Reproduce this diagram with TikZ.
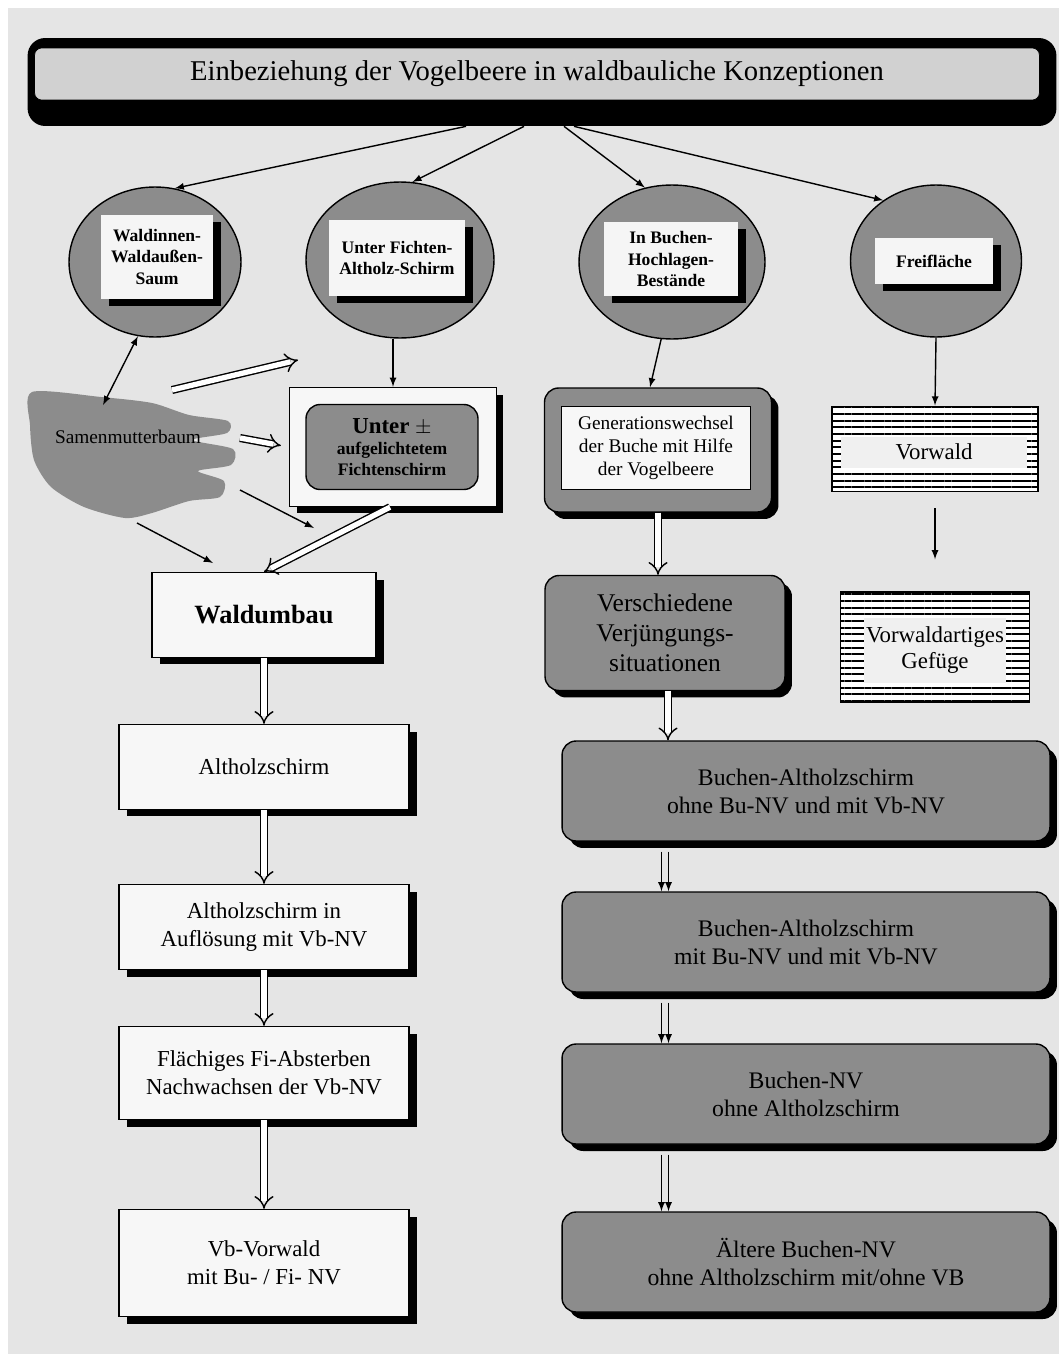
\documentclass[tikz,border=0pt]{standalone}
\usepackage{fontspec}
\setmainfont{Liberation Serif}
\usetikzlibrary{positioning, shapes.geometric, shadows, arrows.meta, patterns.meta}

\begin{document}
\begin{tikzpicture}[%
  x = .02cm, y = -.02cm,
  every node/.style = {align=center},
  rahmen/.style   = {rectangle, rounded corners=10pt, fill=black,
                     minimum width=20.58cm, minimum height=1.76cm},
  kopf/.style     = {rectangle, rounded corners=4pt, draw, thin,
                     fill=black!18, minimum width=20.1cm, minimum height=1.04cm,
                     font=\fontsize{16.3}{19}\selectfont},
  ring/.style     = {ellipse, draw, thick, fill=black!45, inner sep=0pt},
  tag/.style      = {rectangle, fill=black!4, inner sep=1pt,
                     font=\bfseries\fontsize{10}{12}\selectfont,
                     drop shadow={shadow xshift=.16cm, shadow yshift=-.14cm,
                                  fill=black, opacity=1}},
  kasten/.style   = {rectangle, draw, thick, fill=black!3,
                     minimum width=5.8cm, minimum height=1.7cm,
                     font=\fontsize{13}{16}\selectfont,
                     drop shadow={shadow xshift=.16cm, shadow yshift=-.14cm,
                                  fill=black, opacity=1}},
  grau/.style     = {rectangle, rounded corners=8pt, draw, thick, fill=black!45,
                     drop shadow={shadow xshift=.14cm, shadow yshift=-.14cm,
                                  fill=black, opacity=1}},
  buche/.style    = {grau, minimum width=9.76cm, minimum height=2cm,
                     font=\fontsize{13.5}{16}\selectfont},
  streifen/.style = {rectangle, draw, thick, preaction={fill=white},
                     pattern={Lines[angle=0, distance=3.8pt, line width=1.1pt]}},
  feld/.style     = {rectangle, fill=black!6, inner sep=0pt,
                     font=\fontsize{13}{15}\selectfont},
  arr/.style      = {-latex, thick},
  dbl/.style      = {double, double distance=3pt, thick, -{Implies}}
]

  \useasboundingbox (0,0) rectangle (1059,1362);
  \fill[black!10] (8,8) rectangle (1059,1354);

  % Kopf
  \node[rahmen] (rahmen) at (542,82) {};
  \node[kopf] (kopf) at (537,74)
       {Einbeziehung der Vogelbeere in waldbauliche Konzeptionen};

  % Ausgangssituationen
  \node[ring, minimum width=3.44cm, minimum height=3cm]    (rand)     at (155,262) {};
  \node[ring, minimum width=3.76cm, minimum height=3.12cm] (fischirm) at (400,260) {};
  \node[ring, minimum width=3.72cm, minimum height=3.08cm] (buhoch)   at (672,262) {};
  \node[ring, minimum width=3.42cm, minimum height=3.04cm] (frfl)     at (936,261) {};

  \node[tag, minimum width=2.26cm, minimum height=1.7cm]  (randT)     at (157,257)
       {Waldinnen-\\Waldaußen-\\Saum};
  \node[tag, minimum width=2.74cm, minimum height=1.54cm] (fischirmT) at (397,258)
       {Unter Fichten-\\Altholz-Schirm};
  \node[tag, minimum width=2.68cm, minimum height=1.5cm]  (buhochT)   at (671,259)
       {In Buchen-\\Hochlagen-\\Bestände};
  \node[tag, minimum width=2.36cm, minimum height=.94cm]  (frflT)     at (934,261)
       {Freifläche};

  % Samenmutterbaum
  \fill[black!45] plot[smooth cycle, tension=.45] coordinates {
      (32,392) (101,397) (152,403) (189,415) (228,421) (227,433) (192,440)
      (233,449) (231,465) (198,471) (224,481) (220,497) (189,501) (152,513)
      (125,518) (84,507) (51,487) (34,460) (30,425)};
  \node[font=\fontsize{11}{13}\selectfont] (smb) at (128,437) {Samenmutterbaum};

  \coordinate (smbN)  at (103,405);
  \coordinate (smbNE) at (172,390);
  \coordinate (smbE)  at (240,438);
  \coordinate (smbSE) at (240,490);
  \coordinate (smbS)  at (137,523);
  \coordinate (zielA) at (298,360);
  \coordinate (zielB) at (314,528);
  \coordinate (zielC) at (213,563);

  % zweite Reihe
  \node[rectangle, draw, thick, fill=black!3, minimum width=4.14cm,
        minimum height=2.38cm,
        drop shadow={shadow xshift=.14cm, shadow yshift=-.14cm,
                     fill=black, opacity=1}] (unter) at (393,447) {};
  \node[rectangle, rounded corners=8pt, draw, thick, fill=black!45,
        minimum width=3.44cm, minimum height=1.7cm, inner sep=0pt,
        font=\bfseries\fontsize{10}{12}\selectfont] (unterT) at (392,447)
       {{\fontsize{13}{14}\selectfont Unter $\pm$}\\aufgelichtetem\\Fichtenschirm};

  \node[grau, minimum width=4.54cm, minimum height=2.48cm] (gen) at (658,450) {};
  \node[rectangle, draw, thick, fill=black!3, minimum width=3.78cm,
        minimum height=1.66cm, inner sep=0pt,
        font=\fontsize{11}{13}\selectfont] (genT) at (656,448)
       {Generationswechsel\\der Buche mit Hilfe\\der Vogelbeere};

  \node[streifen, minimum width=4.12cm, minimum height=1.7cm] (vorwald) at (935,449) {};
  \node[feld, minimum width=3.74cm, minimum height=.62cm] (vorwaldT) at (934,452)
       {Vorwald};

  \node[streifen, minimum width=3.78cm, minimum height=2.2cm] (vwag) at (935,647) {};
  \node[feld, minimum width=2.84cm, minimum height=1.3cm] (vwagT) at (935,650)
       {Vorwaldartiges\\Gefüge};

  \node[grau, minimum width=4.8cm, minimum height=2.3cm,
        font=\fontsize{14.5}{17}\selectfont] (versch) at (665,633)
       {Verschiedene\\Verjüngungs-\\situationen};

  % linke Spalte
  \node[kasten, minimum width=4.48cm, font=\bfseries\fontsize{15}{18}\selectfont]
       (waldumbau) at (264,615) {Waldumbau};
  \node[kasten] (altholz) at (264,767)  {Altholzschirm};
  \node[kasten] (aufl)    at (264,927)  {Altholzschirm in\\Auflösung mit Vb-NV};
  \node[kasten, minimum height=1.86cm] (flaech) at (264,1073)
       {Flächiges Fi-Absterben\\Nachwachsen der Vb-NV};
  \node[kasten, minimum height=2.14cm] (vbvw) at (264,1263)
       {Vb-Vorwald\\mit Bu- / Fi- NV};

  % rechte Spalte
  \node[buche] (rb1) at (806,791)
       {Buchen-Altholzschirm\\ohne Bu-NV und mit Vb-NV};
  \node[buche] (rb2) at (806,942)
       {Buchen-Altholzschirm\\mit Bu-NV und mit Vb-NV};
  \node[buche] (rb3) at (806,1094)
       {Buchen-NV\\ohne Altholzschirm};
  \node[buche] (rb4) at (806,1262)
       {Ältere Buchen-NV\\ohne Altholzschirm mit/ohne VB};

  % Verbindungen
  \foreach \ziel/\dx/\w in {rand/-1.52cm/75, fischirm/-.36cm/81,
                            buhoch/.44cm/110, frfl/.64cm/131}
    \draw[arr] ([xshift=\dx]rahmen.south) -- (\ziel.\w);

  \draw[arr, latex-latex] (rand.257) -- (smbN);
  \draw[arr] (fischirm.south -| unter.north) -- (unter.north);
  \draw[arr] (buhoch.262) -- ([xshift=-.16cm]gen.north);
  \draw[arr] (frfl.south) -- (vorwald.north);
  \draw[arr, shorten <=.32cm, shorten >=.64cm] (vorwald.south) -- (vwag.north);
  \draw[arr] (smbSE) -- (zielB);
  \draw[arr] (smbS) -- (zielC);

  \draw[dbl] (smbNE) -- (zielA);
  \draw[dbl, shorten >=.16cm] (smbE) -- (unter.west);
  \draw[dbl] ([xshift=-.06cm]unter.south) -- (waldumbau.north);
  \foreach \a/\b in {waldumbau/altholz, altholz/aufl, aufl/flaech, flaech/vbvw}
    \draw[dbl] (\a.south) -- (\b.north);

  \draw[dbl] (gen.south) -- (gen.south |- versch.north);
  \draw[dbl] ([xshift=.06cm]versch.south) -- ([xshift=.06cm]versch.south |- rb1.north);
  \foreach \a/\b in {rb1/rb2, rb2/rb3, rb3/rb4} {
    \draw[arr, shorten <=.2cm] ([xshift=-2pt]versch.south |- \a.south)
         -- ([xshift=-2pt]versch.south |- \b.north);
    \draw[arr, shorten <=.2cm] ([xshift=2pt]versch.south |- \a.south)
         -- ([xshift=2pt]versch.south |- \b.north);
  }

\end{tikzpicture}
\end{document}
